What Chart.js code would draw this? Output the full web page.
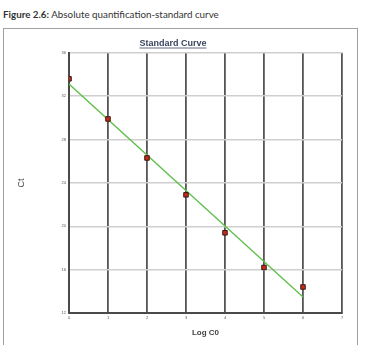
<!DOCTYPE html>
<html>
<head>
<meta charset="utf-8">
<script src="https://cdn.jsdelivr.net/npm/chart.js@4.4.0/dist/chart.umd.min.js"></script>
<style>
  body { margin: 0; background: #fff; font-family: Lato, "Open Sans", sans-serif; }
  #caption { position: absolute; left: 3px; top: 8px; font-size: 9.8px; color: #333; }
  #box { position: absolute; left: 3px; top: 28px; width: 353px; height: 330px; border: 1px solid #a0a0a0; }
  #wrap { position: absolute; left: 0px; top: 0px; width: 352px; height: 316px; }
</style>
</head>
<body>
<div id="caption"><b>Figure 2.6:</b> Absolute quantification-standard curve</div>
<div id="box">
  <div id="wrap"><canvas id="curve"></canvas></div>
</div>
<script>
// valores
const logC0 = [0, 1, 2, 3, 4, 5, 6];
const ctValues = [33.6, 29.9, 26.3, 22.9, 19.4, 16.2, 14.4];
const fitX = [0, 6];
const fitCt = [33.12, 13.47];
const yTicks = [12, 16, 20, 24, 28, 32, 36];
const xTicks = [0, 1, 2, 3, 4, 5, 6, 7];

// sublinhado do título
const underlineTitle = {
  id: 'underlineTitle',
  afterDraw(chart) {
    const tb = chart.titleBlock;
    if (!tb) return;
    const ctx = chart.ctx;
    ctx.save();
    ctx.font = 'bold 9px Arial, "Liberation Sans", sans-serif';
    const w = ctx.measureText(chart.options.plugins.title.text).width;
    const cx = (tb.left + tb.right) / 2;
    const y = 19;
    ctx.strokeStyle = '#3a4560';
    ctx.lineWidth = 0.8;
    ctx.beginPath();
    ctx.moveTo(cx - w / 2, y);
    ctx.lineTo(cx + w / 2, y);
    ctx.stroke();
    ctx.restore();
  }
};

const ctx = document.getElementById('curve').getContext('2d');
new Chart(ctx, {
  type: 'scatter',
  data: {
    datasets: [{
      label: 'Ct',
      data: logC0.map((x, i) => ({ x: x, y: ctValues[i] })),
      pointStyle: 'rect',
      pointRadius: 3.2,
      backgroundColor: '#c62a1c',
      borderColor: '#3a1a10',
      borderWidth: 1,
      order: 1
    }, {
      label: 'Fit',
      type: 'line',
      data: fitX.map((x, i) => ({ x: x, y: fitCt[i] })),
      borderColor: '#5fbf4a',
      borderWidth: 1.3,
      pointRadius: 0,
      fill: false,
      order: 2
    }]
  },
  options: {
    responsive: true,
    maintainAspectRatio: false,
    animation: false,
    layout: { padding: { left: 0, right: 14, top: 0, bottom: 0 } },
    plugins: {
      legend: { display: false },
      tooltip: { enabled: false },
      title: {
        display: true,
        text: 'Standard Curve',
        color: '#3a4560',
        font: { family: 'Arial, "Liberation Sans", sans-serif', size: 9, weight: 'bold' },
        padding: { top: 9, bottom: 4 }
      }
    },
    scales: {
      x: {
        type: 'linear',
        min: 0,
        max: 7,
        afterBuildTicks: (axis) => { axis.ticks = xTicks.map(v => ({ value: v })); },
        afterFit: (axis) => { axis.height = 32; },
        grid: { color: '#555555', lineWidth: 1.8, drawTicks: false },
        border: { color: '#4a4a4a', width: 2 },
        ticks: { color: '#555', font: { size: 4 }, padding: 2, maxRotation: 0 },
        title: {
          display: true,
          text: 'Log C0',
          color: '#444',
          font: { family: 'Arial, "Liberation Sans", sans-serif', size: 8, weight: 'bold' },
          padding: { top: 4, bottom: 7 }
        }
      },
      y: {
        min: 12,
        max: 36,
        afterBuildTicks: (axis) => { axis.ticks = yTicks.map(v => ({ value: v })); },
        afterFit: (axis) => { axis.width = 65; },
        grid: { color: '#cfcfcf', lineWidth: 1.5, drawTicks: false },
        border: { color: '#4a4a4a', width: 2 },
        ticks: { color: '#555', font: { size: 4 }, padding: 3 },
        title: {
          display: true,
          text: 'Ct',
          color: '#444',
          font: { family: 'Arial, "Liberation Sans", sans-serif', size: 9 },
          padding: { top: 12, bottom: 0 }
        }
      }
    }
  },
  plugins: [underlineTitle]
});
</script>
</body>
</html>
